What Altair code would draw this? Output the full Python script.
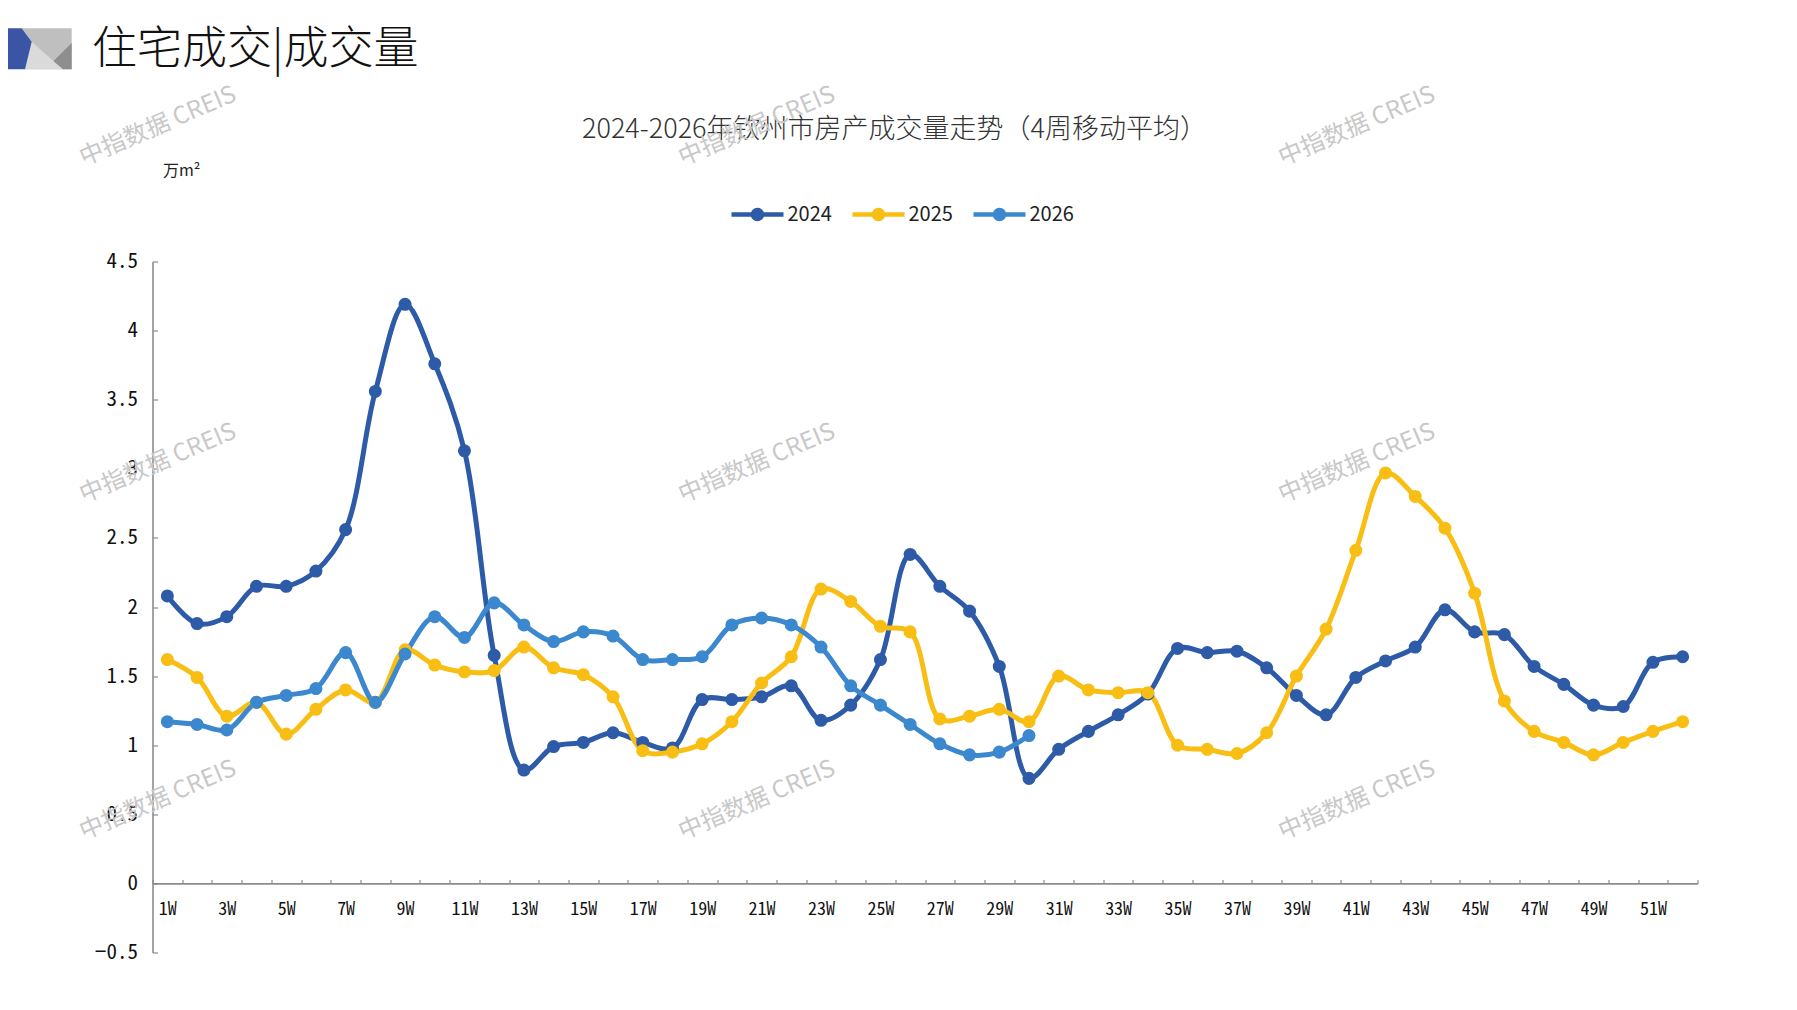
import altair as alt
import pandas as pd

# weeks on the x axis
weeks = [f"{i}W" for i in range(1, 53)]
years = ["2024", "2025", "2026"]
colors = ["#2D5BA8", "#F8BE14", "#3C88CE"]

# 4-week moving average, 万m²
v2024 = [2.08, 1.88, 1.93, 2.15, 2.15, 2.26, 2.56, 3.56, 4.19, 3.76,
         3.13, 1.65, 0.82, 0.99, 1.02, 1.09, 1.02, 0.98, 1.33, 1.33,
         1.35, 1.43, 1.18, 1.29, 1.62, 2.38, 2.15, 1.97, 1.57, 0.76,
         0.97, 1.10, 1.22, 1.37, 1.70, 1.67, 1.68, 1.56, 1.36, 1.22,
         1.49, 1.61, 1.71, 1.98, 1.82, 1.80, 1.57, 1.44, 1.29, 1.28,
         1.60, 1.64]
v2025 = [1.62, 1.49, 1.21, 1.31, 1.08, 1.26, 1.40, 1.31, 1.69, 1.58,
         1.53, 1.54, 1.71, 1.56, 1.51, 1.35, 0.96, 0.95, 1.01, 1.17,
         1.45, 1.64, 2.13, 2.04, 1.86, 1.82, 1.19, 1.21, 1.26, 1.17,
         1.50, 1.40, 1.38, 1.38, 1.00, 0.97, 0.94, 1.09, 1.50, 1.84,
         2.41, 2.97, 2.80, 2.57, 2.10, 1.32, 1.10, 1.02, 0.93, 1.02,
         1.10, 1.17]
v2026 = [1.17, 1.15, 1.11, 1.31, 1.36, 1.41, 1.67, 1.31, 1.66, 1.93,
         1.78, 2.03, 1.87, 1.75, 1.82, 1.79, 1.62, 1.62, 1.64, 1.87,
         1.92, 1.87, 1.71, 1.43, 1.29, 1.15, 1.01, 0.93, 0.95, 1.07]

y_ticks = [-0.5, 0, 0.5, 1, 1.5, 2, 2.5, 3, 3.5, 4, 4.5]

rows = []
for year, vals in zip(years, [v2024, v2025, v2026]):
    for wk, v in zip(weeks, vals):
        rows.append({"week": wk, "year": year, "value": v})
df = pd.DataFrame(rows)

W, H = 1545, 691
MONO = "'Noto Sans Mono CJK SC', 'DejaVu Sans Mono', monospace"
SANS = "Noto Sans CJK SC"
AXIS_GREY = "#8c8c8c"

# legend symbol: a short line with a dot in the middle
LEGEND_SYMBOL = ("M-1,-0.09L1,-0.09L1,0.09L-1,0.09Z"
                 "M-0.26,0A0.26,0.26 0 1,1 0.26,0A0.26,0.26 0 1,1 -0.26,0Z")

x = alt.X(
    "week:N",
    sort=weeks,
    scale=alt.Scale(type="band", domain=weeks, paddingInner=0, paddingOuter=0),
    axis=alt.Axis(
        title=None, grid=False, tickBand="extent", labelAngle=0,
        labelExpr="parseInt(datum.value) % 2 == 1 ? datum.value : ''",
        labelOverlap=False, labelFont=MONO, labelFontSize=18,
        labelColor="#111111", labelPadding=21,
        domainColor=AXIS_GREY, domainWidth=1.6,
        tickColor=AXIS_GREY, tickWidth=1.2, tickSize={"expr": "-4"},
        offset=-H * 0.1,  # puts the axis line on y = 0
    ),
)
y = alt.Y(
    "value:Q",
    scale=alt.Scale(domain=[-0.5, 4.5], nice=False, zero=False),
    axis=alt.Axis(
        title=None, grid=False, values=y_ticks, format="~g",
        labelFont=MONO, labelFontSize=21, labelColor="#111111",
        labelPadding=20, domainColor=AXIS_GREY, domainWidth=1.6,
        tickColor=AXIS_GREY, tickWidth=1.2, tickSize={"expr": "-5"},
    ),
)
color = alt.Color(
    "year:N",
    scale=alt.Scale(domain=years, range=colors),
    legend=alt.Legend(
        title=None, orient="none", legendX=579, legendY=-73,
        direction="horizontal", symbolType=LEGEND_SYMBOL, symbolSize=2704,
        symbolStrokeWidth=0, symbolOpacity=1, labelFont=SANS,
        labelFontSize=20, labelColor="#222222", labelOffset=4,
        columnPadding=20,
    ),
)

base = alt.Chart(df)
lines = base.mark_line(interpolate="catmull-rom", strokeWidth=5).encode(
    x=x, y=y, color=color, detail="year:N"
)
points = base.mark_circle(size=170, opacity=1).encode(x=x, y=y, color=color)
data_layer = alt.layer(lines, points)

# watermark grid
wm = pd.DataFrame({
    "wx": [5.5, 604.5, 1204.5] * 3,
    "wy": [-135] * 3 + [202] * 3 + [539] * 3,
})
watermark = alt.Chart(wm).mark_text(
    text="中指数据 CREIS", font=SANS, fontSize=24, angle=337,
    color="#c8c8c8", align="center", baseline="middle",
).encode(
    x=alt.X("wx:Q", scale=None, axis=None),
    y=alt.Y("wy:Q", scale=None, axis=None),
)

# header logo (paths in pixels, relative to the top-left of the page area)
logo = pd.DataFrame({
    "path": [
        "M13.7,20.3L63.7,20.3L63.7,61.3L17,61.3L23.7,33.7Z",
        "M23.7,33.7L55,61.3L17,61.3Z",
        "M63.7,35L63.7,61.3L55,61.3L45.5,52.9Z",
        "M-8,20.3L13.7,20.3L23.7,33.7L17,61.3L-8,61.3Z",
    ],
    "fill": ["#bfbfbf", "#dadada", "#8e8e8e", "#3a55a5"],
    "order": [0, 1, 2, 3],
})
logo_mark = alt.Chart(logo).mark_point(filled=True, opacity=1, strokeWidth=0).encode(
    x=alt.value(-144.5), y=alt.value(-253.5),
    shape=alt.Shape("path:N", scale=None),
    fill=alt.Fill("fill:N", scale=None),
    size=alt.value(4),
    order="order:Q",
)

header = alt.Chart(pd.DataFrame({"t": ["住宅成交|成交量"]})).mark_text(
    font=SANS, fontSize=45, fontWeight=300, color="#111111",
    align="left", baseline="middle",
).encode(text="t:N", x=alt.value(-60.5), y=alt.value(-211.5))

subtitle = alt.Chart(
    pd.DataFrame({"t": ["2024-2026年钦州市房产成交量走势（4周移动平均）"]})
).mark_text(
    font=SANS, fontSize=27, fontWeight=300, color="#333333",
    align="center", baseline="middle",
).encode(text="t:N", x=alt.value(742), y=alt.value(-131.5))

unit = alt.Chart(pd.DataFrame({"t": ["万m²"]})).mark_text(
    font=SANS, fontSize=16, color="#222222", align="left", baseline="middle",
).encode(text="t:N", x=alt.value(10.5), y=alt.value(-90.5))

chart = (
    alt.layer(logo_mark, header, subtitle, unit, watermark, data_layer)
    .resolve_scale(x="independent", y="independent")
    .properties(
        width=W, height=H,
        autosize=alt.AutoSizeParams(type="none"),
        padding={"left": 144.5, "top": 253.5, "right": 60, "bottom": 40},
        background="white",
    )
    .configure_view(stroke=None)
)

chart.save("out.html", embed_options={"renderer": "svg", "actions": False})
